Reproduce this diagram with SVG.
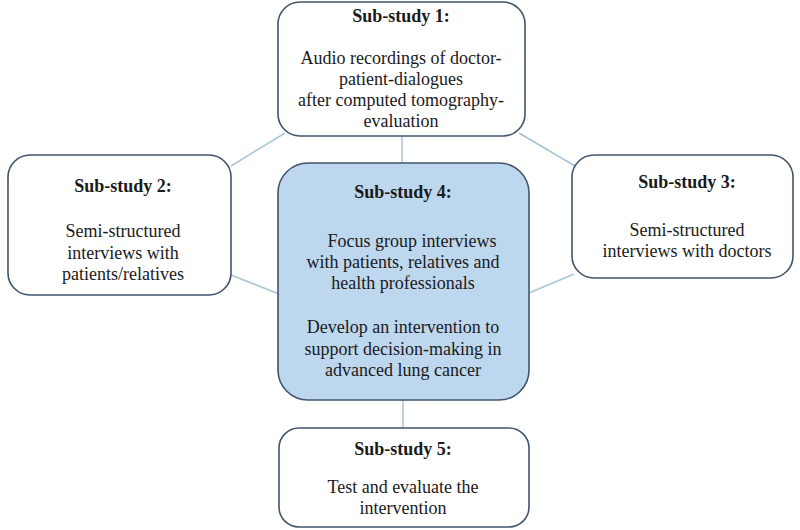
<svg xmlns="http://www.w3.org/2000/svg" width="800" height="530" viewBox="0 0 800 530">
<style>
.box{fill:#ffffff;stroke:#41546b;stroke-width:1.6}
.center{fill:#bdd7ee;stroke:#41546b;stroke-width:1.6}
.conn{stroke:#a7c5d6;stroke-width:1.5;fill:none}
text{font-family:"Liberation Serif","Times New Roman",serif;font-size:18px;fill:#1a1a1a;text-anchor:middle}
.h{font-weight:bold}
</style>
<rect width="800" height="530" fill="#ffffff"/>
<g id="connectors">
<line class="conn" x1="402" y1="136" x2="402" y2="163"/>
<line class="conn" x1="231" y1="166" x2="285" y2="133"/>
<line class="conn" x1="519" y1="133" x2="575" y2="166"/>
<line class="conn" x1="231" y1="275" x2="279" y2="294"/>
<line class="conn" x1="574" y1="274" x2="529" y2="293"/>
<line class="conn" x1="403" y1="400" x2="403" y2="428"/>
</g>
<g id="node1">
<rect class="box" x="278" y="2" width="247" height="134" rx="22"/>
<text class="h" x="401" y="22">Sub-study 1:</text>
<text x="401" y="64">Audio recordings of doctor-</text>
<text x="401" y="85">patient-dialogues</text>
<text x="401" y="106">after computed tomography-</text>
<text x="401" y="127">evaluation</text>
</g>
<g id="node2">
<rect class="box" x="8" y="155" width="223" height="140" rx="22"/>
<text class="h" x="123" y="192">Sub-study 2:</text>
<text x="123" y="237">Semi-structured</text>
<text x="123" y="259">interviews with</text>
<text x="123" y="280">patients/relatives</text>
</g>
<g id="node3">
<rect class="box" x="572" y="155" width="221" height="123" rx="22"/>
<text class="h" x="687" y="188">Sub-study 3:</text>
<text x="687" y="236">Semi-structured</text>
<text x="687" y="257">interviews with doctors</text>
</g>
<g id="node4">
<rect class="center" x="278" y="163" width="251" height="237" rx="30"/>
<text class="h" x="403" y="198">Sub-study 4:</text>
<text x="412" y="247">Focus group interviews</text>
<text x="403" y="268">with patients, relatives and</text>
<text x="403" y="289">health professionals</text>
<text x="403" y="333">Develop an intervention to</text>
<text x="403" y="355">support decision-making in</text>
<text x="403" y="376">advanced lung cancer</text>
</g>
<g id="node5">
<rect class="box" x="279" y="428" width="250" height="99" rx="20"/>
<text class="h" x="403" y="455">Sub-study 5:</text>
<text x="403" y="493">Test and evaluate the</text>
<text x="403" y="514">intervention</text>
</g>
</svg>
